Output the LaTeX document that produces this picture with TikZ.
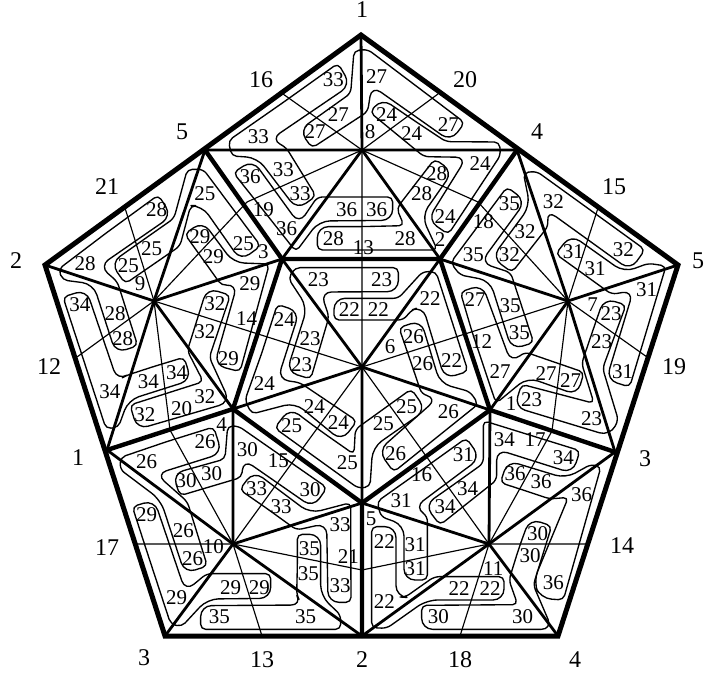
\documentclass[tikz,border=0pt]{standalone}
\usepackage{fontspec}
\setmainfont{Liberation Serif}
\tikzset{
  zm/.style 2 args={shift={(#1pt,-#2pt)},x=0.33333pt,y=-0.33333pt},
  band/.style={line width=1.35pt,rounded corners=5pt,line join=round},
  cr/.style={rounded corners=11pt},
  br/.style={rounded corners=5pt},
  lab/.style={inner sep=0pt,font=\fontsize{21}{21}\selectfont},
  olab/.style={inner sep=0pt,font=\fontsize{24}{24}\selectfont},
  heavy/.style={line width=5pt,line join=miter},
  edge/.style={line width=4.4pt,line cap=round},
  spoke/.style={line width=2.8pt},
  thinl/.style={line width=1.15pt,line join=round}
}
\begin{document}
\begin{tikzpicture}[x=1pt,y=-1pt]
\useasboundingbox (0,0) rectangle (707,679);
% outer vertices
\coordinate (O1) at (361,35);
\coordinate (O2) at (678,265);
\coordinate (O3) at (558,636);
\coordinate (O4) at (165,636);
\coordinate (O5) at (45,265);
% ring
\coordinate (R1) at (205,150);
\coordinate (R2) at (517,150);
\coordinate (R3) at (615,452);
\coordinate (R4) at (362,636);
\coordinate (R5) at (107,450);
% central pentagon
\coordinate (C1) at (282,259);
\coordinate (C2) at (440,259);
\coordinate (C3) at (490,410);
\coordinate (C4) at (362,503);
\coordinate (C5) at (233,409);
% hubs
\coordinate (HT) at (362,150);
\coordinate (HL) at (154,301);
\coordinate (HR) at (568,301);
\coordinate (HA) at (233,544);
\coordinate (HB) at (489,544);
\coordinate (HC) at (362,367);
% edge midpoints
\coordinate (M1) at (283,94);
\coordinate (M2) at (438,94);
\coordinate (M3) at (125,208);
\coordinate (M4) at (77,357);
\coordinate (M5) at (598,208);
\coordinate (M6) at (647,357);
\coordinate (M7) at (136,544);
\coordinate (M8) at (262,636);
\coordinate (M9) at (587,544);
\coordinate (M10) at (460,636);
\coordinate (TL) at (247,202);
\coordinate (TR) at (478,202);
\coordinate (TC) at (362,259);
\coordinate (LC) at (258,334);
\coordinate (RC) at (465,334);
\coordinate (LA) at (170,430);
\coordinate (RB) at (552,431);
\coordinate (AC) at (297,456);
\coordinate (BC) at (426,456);
\coordinate (AB) at (362,570);
% thin lines
\draw[thinl] (M1)--(HT)--(M2) (TL)--(HT)--(TR) (HT)--(TC)--(HC);
\draw[thinl] (M3)--(HL)--(M4) (HL)--(TL) (HL)--(LC)--(HC) (HL)--(LA)--(HA);
\draw[thinl] (M5)--(HR)--(M6) (HR)--(TR) (HR)--(RC)--(HC) (HR)--(RB)--(HB);
\draw[thinl] (M7)--(HA)--(M8) (HA)--(AC)--(HC) (HA)--(AB)--(HB);
\draw[thinl] (M9)--(HB)--(M10) (HB)--(BC)--(HC);
% spokes
\foreach \h/\a/\b/\c/\d/\e in {HT/O1/R1/R2/C1/C2,HL/O5/R1/C1/C5/R5,HR/O2/R2/C2/C3/R3,HA/R5/C5/C4/R4/O4,HB/R3/C3/C4/R4/O3,HC/C1/C2/C3/C4/C5}
  \draw[spoke] (\h)--(\a) (\h)--(\b) (\h)--(\c) (\h)--(\d) (\h)--(\e);
% edges
\draw[edge] (C1)--(C2)--(C3)--(C4)--(C5)--cycle;
\draw[edge] (R1)--(C1) (R2)--(C2) (R3)--(C3) (R4)--(C4) (R5)--(C5);
\draw[heavy] (O1)--(O2)--(O3)--(O4)--(O5)--cycle;
% top
\begin{scope}[zm={200}{20}]
\draw[band] (250,247) -- (414,130) [cr] -- (452,195) -- (212,358) [br] -- (258,382) -- (348,528) [cr] -- (291,569) -- (172,413) [br] -- (95,408) -- (85,362) -- cycle;
\draw[band] (194,576) -- (100,458) [cr] -- (158,420)  -- (297,612) [br] -- (352,531) -- (578,531) [cr] -- (578,601) -- (357,603) [br] -- (288,695) -- cycle;
\draw[band] (375,275) -- (452,220) -- (462,92) -- (503,88) -- (794,308) [cr] -- (752,364) -- (515,197) [br] -- (503,275) -- (336,384) [cr] -- (298,330) -- cycle;
\draw[band] (640,300) -- (738,365) -- (898,366) -- (902,405) -- (745,643) [cr] -- (683,600) -- (800,412) [br] -- (672,410) -- (510,277) [cr] -- (545,235) -- cycle;
\draw[band] (480,620) -- (612,617) -- (590,565) -- (704,417) [cr] -- (758,455) -- (665,588) [br] -- (712,690) -- (352,690) [cr] -- (352,620) -- cycle;
\foreach \x/\y/\t [count=\i] in {400/180/33,175/350/33,250/450/33,300/520/33,345/335/27,415/285/27,530/170/27,745/315/27,560/285/24,635/340/24,840/430/24,735/590/24,710/460/28,665/520/28,615/655/28,400/655/28,150/470/36,260/625/36,440/570/36,530/570/36,510/335/8,190/570/19,850/605/18,490/682/13,190/695/3,720/660/2}
  \node[lab] (t\i) at (\x,\y) {\t};
\end{scope}
% left
\begin{scope}[zm={30}{140}]
\draw[band] (230,278) -- (385,165) [cr] -- (425,228) -- (208,378) [br] -- (262,425) -- (323,617) [cr] -- (257,639) -- (190,432) [br] -- (98,420) -- (85,388) -- cycle;
\draw[band] (345,296) -- (432,235) -- (472,88) -- (520,88) -- (692,318) [cr] -- (632,362) -- (516,197) [br] -- (482,197) -- (450,318) -- (286,431) [cr] -- (242,369) -- cycle;
\draw[band] (525,367) -- (464,282) [cr] -- (518,244) -- (610,368) [br] -- (718,372) -- (630,695) [cr] -- (553,675) -- (622,432) [br] -- (575,437) -- cycle;
\draw[band] (502,537) -- (472,632) -- (520,725) -- (300,795) [cr] -- (322,868) -- (600,787) [br] -- (538,652) -- (601,466) [cr] -- (531,444) -- cycle;
\draw[band] (370,680) -- (462,652) [cr] -- (484,720) -- (295,780) [br] -- (265,862) -- (228,866) -- (99,471) [cr] -- (169,449) -- (262,722) [br] -- (290,706) -- cycle;
\foreach \x/\y/\t [count=\i] in {380/208/28,165/370/28,255/520/28,278/595/28,295/378/25,365/325/25,525/160/25,640/310/25,510/290/29,550/350/29,660/430/29,595/655/29,555/490/32,525/575/32,525/770/32,345/825/32,150/495/34,240/755/34,355/725/34,440/698/34,330/430/9,650/535/14,455/805/20}
  \node[lab] (t\i) at (\x,\y) {\t};
\end{scope}
% right
\begin{scope}[zm={430}{140}]
\draw[band] (500,224) -- (645,329) [cr] -- (601,391) -- (350,210) [br] -- (355,258) -- (246,397) [cr] -- (186,353) -- (300,198) [br] -- (280,98) -- (320,94) -- cycle;
\draw[band] (150,250) -- (231,141) [cr] -- (287,183) -- (152,368) [br] -- (242,398) -- (311,608) [cr] -- (245,628) -- (180,422) [br] -- (90,405) -- (62,368) -- cycle;
\draw[band] (126,575) -- (91,456) [cr] -- (157,434) -- (243,668) [br] -- (285,636) -- (462,697) [cr] -- (442,765) -- (293,712) [br] -- (198,790) -- cycle;
\draw[band] (489,570) -- (455,670) -- (492,790) -- (275,733) [cr] -- (253,801) -- (540,888) [br] -- (565,840) -- (518,685) -- (588,495) [cr] -- (522,475) -- cycle;
\draw[band] (470,409) -- (377,342) [cr] -- (423,284) -- (582,397) [br] -- (655,370) -- (708,378) -- (599,741) [cr] -- (529,719) -- (610,452) [br] -- (545,463) -- cycle;
\foreach \x/\y/\t [count=\i] in {370/185/32,285/275/32,238/345/32,580/330/32,238/190/35,130/345/35,240/497/35,268/578/35,135/478/27,210/695/27,348/700/27,422/722/27,305/780/23,485/835/23,515/605/23,543/522/23,430/335/31,495/385/31,650/450/31,578/695/31,155/605/12,488/495/7,243/790/1}
  \node[lab] (t\i) at (\x,\y) {\t};
\end{scope}
% bottom left
\begin{scope}[zm={100}{400}]
\draw[band] (200,125) -- (341,81) [cr] -- (366,160) -- (168,222) [br] -- (262,305) -- (322,498) [cr] -- (254,520) -- (182,300) [br] -- (60,208) -- (62,172) -- cycle;
\draw[band] (300,198) -- (375,177) -- (383,78) -- (415,78) -- (681,263) [cr] -- (639,323) -- (430,178) [br] -- (425,232) -- (240,287) [cr] -- (218,221) -- cycle;
\draw[band] (500,325) -- (419,269) [cr] -- (461,213) -- (630,340) [br] -- (752,308) -- (753,607) [cr] -- (684,607) -- (680,370) [br] -- (590,390) -- cycle;
\draw[band] (592,500) -- (592,403) [cr] -- (662,403) -- (662,588) [br] -- (722,645) -- (722,688) -- (302,688) [cr] -- (302,617) -- (606,615) [br] -- (590,585) -- cycle;
\draw[band] (149,480) -- (97,320) [cr] -- (163,300) -- (256,574) [br] -- (320,521) -- (512,521) [cr] -- (512,595) -- (322,597) [br] -- (245,680) -- (212,672) -- cycle;
\foreach \x/\y/\t [count=\i] in {315/125/26,140/185/26,250/393/26,278/475/26,258/243/30,335/222/30,442/150/30,630/268/30,470/265/33,543/320/33,720/375/33,720/558/33,628/445/35,625/520/35,358/650/35,617/650/35,140/345/29,230/592/29,392/562/29,478/562/29,535/182/15,365/75/4,340/440/10,745/470/21}
  \node[lab] (t\i) at (\x,\y) {\t};
\end{scope}
% bottom right
\begin{scope}[zm={355}{400}]
\draw[band] (200,210) -- (334,114) [cr] -- (376,174) -- (178,322) [br] -- (217,348) -- (217,540) [cr] -- (147,540) -- (147,375) [br] -- (78,350) -- (66,305) -- cycle;
\draw[band] (300,251) -- (385,190) -- (385,62) -- (675,152) [cr] -- (653,220) -- (425,148) [br] -- (425,240) -- (255,375) [cr] -- (209,315) -- cycle;
\draw[band] (510,272) -- (436,248) [cr] -- (458,182) -- (632,235) [br] -- (708,193) -- (738,200) -- (625,600) [cr] -- (556,595) -- (535,545) [br] -- (640,292) -- (585,297) -- cycle;
\draw[band] (493,440) -- (462,540) -- (488,614) -- (200,616) [cr] -- (200,688) -- (592,688) [br] -- (535,555) -- (590,378) [cr] -- (524,356) -- cycle;
\draw[band] (50,500) -- (50,380) [cr] -- (123,380) -- (123,590) [br] -- (150,592) -- (238,530) -- (447,530) [cr] -- (447,600) -- (215,600) [br] -- (95,685) -- (50,683) -- cycle;
\foreach \x/\y/\t [count=\i] in {325/165/31,138/303/31,180/435/31,180/507/31,270/320/34,338/265/34,448/118/34,625/172/34,480/222/36,558/245/36,680/285/36,595/547/36,548/400/30,525/468/30,250/650/30,503/650/30,88/425/22,88/605/22,312/565/22,405/565/22,48/357/5,200/225/16,415/505/11,540/118/17}
  \node[lab] (t\i) at (\x,\y) {\t};
\end{scope}
% centre
\begin{scope}[zm={230}{220}]
\draw[band] (350,143) -- (505,143) [cr] -- (505,215) -- (272,216) [br] -- (297,290) -- (242,477) [cr] -- (170,455) -- (232,262) [br] -- (175,175) -- (195,143) -- cycle;
\draw[band] (420,235) -- (505,235) -- (578,155) -- (618,155) -- (714,454) [cr] -- (644,476) -- (578,258) [br] -- (545,270) -- (520,300) -- (312,300) [cr] -- (312,235) -- cycle;
\draw[band] (537,410) -- (507,323) [cr] -- (573,301) -- (630,490) [br] -- (720,515) -- (745,552) -- (491,756) [cr] -- (445,692) -- (622,535) [br] -- (575,522) -- cycle;
\draw[band] (265,628) -- (372,703) -- (376,628) -- (544,507) [cr] -- (588,570) -- (428,682) [br] -- (420,800) -- (385,805) -- (134,624) [cr] -- (180,564) -- cycle;
\draw[band] (95,400) -- (142,253) [cr] -- (208,275) -- (143,478) [br] -- (210,488) -- (381,603) [cr] -- (335,663) -- (195,548) [br] -- (65,582) -- (45,540) -- cycle;
\foreach \x/\y/\t [count=\i] in {265/180/23,455/180/23,240/355/23,215/433/23,358/270/22,445/270/22,600/237/22,665/422/22,550/350/26,578/430/26,655/575/26,497/700/26,530/560/25,460/612/25,352/728/25,185/618/25,163/298/24,103/492/24,253/560/24,325/608/24,480/380/6}
  \node[lab] (t\i) at (\x,\y) {\t};
\end{scope}
% outer labels
\foreach \x/\y/\t [count=\i] in {362/10/1,261/80/16,465/80/20,182/132/5,537/132/4,107/187/21,614/187/15,16/261/2,698/261/5,49/367/12,674/367/19,78/458/1,645/459/3,107/548/17,622/546/14,144/658/3,262/660/13,362/660/2,460/660/18,575/660/4}
  \node[olab] (o\i) at (\x,\y) {\t};
\end{tikzpicture}
\end{document}
